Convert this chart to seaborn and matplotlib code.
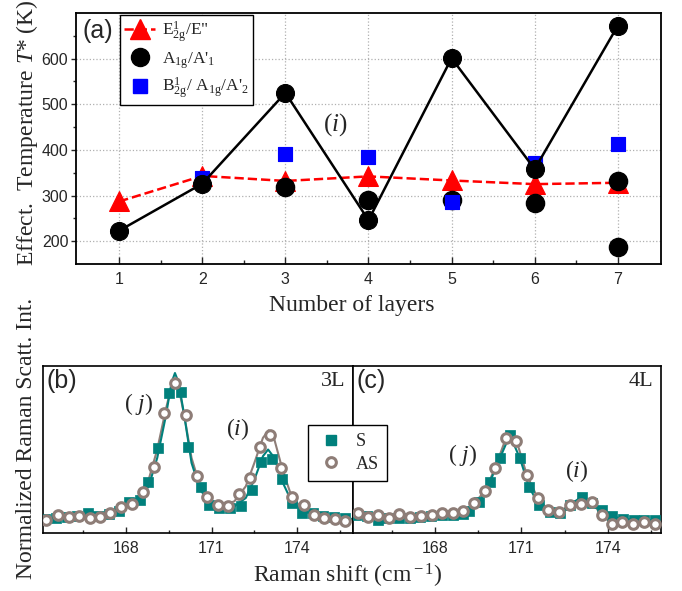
import numpy as np
import pandas as pd
import matplotlib
matplotlib.use("Agg")
import matplotlib.pyplot as plt
import seaborn as sns
from matplotlib.lines import Line2D
from matplotlib.ticker import FixedLocator

# ---------------- data: panel (a) ----------------
layers = [1, 2, 3, 4, 5, 6, 7]
e2g_T = [287, 343, 332, 342, 333, 325, 328]
a1g_T = [223, 326, 525, 246, 601, 358, 672]
a1g_extra_layers = [3, 4, 5, 6, 7, 7]
a1g_extra_T = [319, 291, 291, 283, 332, 187]
b2g_layers = [2, 3, 4, 5, 6, 7]
b2g_T = [339, 392, 384, 285, 372, 414]
x_ticks_a = [1, 2, 3, 4, 5, 6, 7]
y_ticks_a = [200, 300, 400, 500, 600]

# ---------------- data: panel (b) 3L ----------------
b_S_x = [165.16, 165.54, 165.93, 166.28, 166.67, 167.02, 167.40, 167.75, 168.12, 168.49,
         168.78, 169.13, 169.52, 169.92, 170.19, 170.62, 170.92, 171.26, 171.65, 172.02,
         172.41, 172.73, 173.11, 173.46, 173.81, 174.16, 174.56, 174.91, 175.30, 175.68]
b_S_y = [0.084, 0.090, 0.096, 0.100, 0.120, 0.102, 0.114, 0.132, 0.184, 0.198,
         0.308, 0.507, 0.840, 0.846, 0.517, 0.277, 0.168, 0.152, 0.148, 0.163,
         0.257, 0.427, 0.441, 0.321, 0.178, 0.122, 0.120, 0.102, 0.096, 0.090]
b_AS_x = [165.22, 165.62, 166.00, 166.37, 166.74, 167.10, 167.46, 167.84, 168.20, 168.61,
          168.99, 169.33, 169.72, 170.09, 170.48, 170.83, 171.22, 171.59, 171.96, 172.33,
          172.70, 173.05, 173.44, 173.81, 174.22, 174.57, 174.95, 175.33, 175.68]
b_AS_y = [0.078, 0.106, 0.098, 0.103, 0.088, 0.098, 0.118, 0.153, 0.175, 0.247,
          0.397, 0.717, 0.900, 0.707, 0.341, 0.217, 0.168, 0.162, 0.232, 0.331,
          0.517, 0.587, 0.387, 0.214, 0.168, 0.108, 0.088, 0.082, 0.072]
b_Sfit_x = [165.1, 166.0, 167.0, 167.8, 168.4, 168.8, 169.1, 169.4, 169.6, 169.72, 169.85,
            170.05, 170.3, 170.6, 171.0, 171.4, 171.8, 172.2, 172.5, 172.8, 172.98, 173.2,
            173.5, 173.8, 174.2, 174.8, 175.9]
b_Sfit_y = [0.085, 0.095, 0.11, 0.14, 0.19, 0.28, 0.45, 0.70, 0.90, 0.958, 0.90,
            0.70, 0.42, 0.26, 0.17, 0.15, 0.16, 0.21, 0.32, 0.46, 0.50, 0.45,
            0.30, 0.19, 0.13, 0.10, 0.085]
b_ASfit_x = [165.1, 166.0, 167.0, 167.8, 168.4, 168.8, 169.1, 169.4, 169.6, 169.72, 169.85,
             170.05, 170.3, 170.6, 171.0, 171.4, 171.8, 172.2, 172.5, 172.8, 173.0, 173.2,
             173.5, 173.8, 174.2, 174.8, 175.9]
b_ASfit_y = [0.085, 0.095, 0.11, 0.15, 0.21, 0.32, 0.50, 0.74, 0.88, 0.91, 0.87,
             0.70, 0.45, 0.28, 0.19, 0.165, 0.19, 0.28, 0.42, 0.57, 0.615, 0.56,
             0.37, 0.22, 0.14, 0.10, 0.08]

# ---------------- data: panel (c) 4L ----------------
c_S_x = [165.26, 165.64, 166.01, 166.37, 166.75, 167.13, 167.48, 167.86, 168.24, 168.62,
         168.97, 169.18, 169.54, 169.91, 170.25, 170.60, 170.95, 171.27, 171.62, 171.99,
         172.34, 172.68, 173.09, 173.47, 173.80, 174.16, 174.53, 174.90, 175.27, 175.64]
c_S_y = [0.108, 0.100, 0.078, 0.090, 0.090, 0.090, 0.095, 0.100, 0.105, 0.110,
         0.115, 0.130, 0.184, 0.307, 0.447, 0.587, 0.447, 0.273, 0.168, 0.128,
         0.120, 0.168, 0.217, 0.178, 0.138, 0.100, 0.084, 0.080, 0.078, 0.076]
c_AS_x = [165.32, 165.67, 166.03, 166.39, 166.76, 167.14, 167.51, 167.89, 168.24, 168.61,
          168.98, 169.36, 169.74, 170.09, 170.46, 170.83, 171.19, 171.56, 171.92, 172.31,
          172.69, 173.06, 173.44, 173.79, 174.16, 174.51, 174.88, 175.26, 175.64]
c_AS_y = [0.122, 0.098, 0.108, 0.088, 0.114, 0.098, 0.104, 0.108, 0.118, 0.122,
          0.132, 0.178, 0.253, 0.391, 0.567, 0.553, 0.347, 0.211, 0.138, 0.128,
          0.168, 0.172, 0.184, 0.108, 0.054, 0.068, 0.052, 0.064, 0.054]
x_ticks_bc = [168, 171, 174]
x_minor_bc = [166.5, 169.5, 172.5, 175.5]

# ---------------- style ----------------
sns.set_style("ticks")
plt.rcParams['font.family'] = ['Liberation Serif', 'DejaVu Serif']
plt.rcParams['mathtext.fontset'] = 'custom'
plt.rcParams['mathtext.rm'] = 'Liberation Serif'
plt.rcParams['mathtext.it'] = 'Liberation Serif:italic'
plt.rcParams['mathtext.bf'] = 'Liberation Serif:bold'

teal = '#00807c'
brown = '#8e7d77'
sans = ['Liberation Sans', 'DejaVu Sans']

fig = plt.figure(figsize=(6.82, 5.91), dpi=100)
ax_a = fig.add_axes([0.1114, 0.5533, 0.8578, 0.4247])
ax_b = fig.add_axes([0.063, 0.0981, 0.4545, 0.2826])
ax_c = fig.add_axes([0.5176, 0.0981, 0.4516, 0.2826])

# ---------------- panel (a) ----------------
sns.lineplot(x=layers, y=e2g_T, ax=ax_a, color='red', linestyle='--', lw=1.8,
             marker='^', markersize=14, markeredgecolor='red', zorder=3, legend=False)
sns.scatterplot(x=a1g_extra_layers, y=a1g_extra_T, ax=ax_a, color='black', marker='o',
                s=170, edgecolor='black', zorder=4, legend=False)
sns.scatterplot(x=b2g_layers, y=b2g_T, ax=ax_a, color='blue', marker='s',
                s=105, edgecolor='blue', zorder=5, legend=False)
sns.lineplot(x=layers, y=a1g_T, ax=ax_a, color='black', lw=1.8, marker='o',
             markersize=13, markeredgecolor='black', zorder=6, legend=False)

ax_a.set_xlim(0.48, 7.52)
ax_a.set_ylim(150, 700)
ax_a.xaxis.set_major_locator(FixedLocator(x_ticks_a))
ax_a.xaxis.set_minor_locator(FixedLocator([1.5, 2.5, 3.5, 4.5, 5.5, 6.5]))
ax_a.yaxis.set_major_locator(FixedLocator(y_ticks_a))
ax_a.yaxis.set_minor_locator(FixedLocator([250, 350, 450, 550, 650]))
ax_a.grid(True, which='major', linestyle=':', color='#b0b0b0', lw=0.9)
ax_a.set_axisbelow(True)
ax_a.tick_params(axis='x', which='major', direction='in', length=5, width=1, pad=6)
ax_a.tick_params(axis='x', which='minor', direction='in', length=3, width=1)
ax_a.tick_params(axis='y', which='major', direction='out', length=3.5, width=1, pad=2)
ax_a.tick_params(axis='y', which='minor', direction='out', length=2, width=1)
for lab in ax_a.get_xticklabels() + ax_a.get_yticklabels():
    lab.set_family(sans)
    lab.set_fontsize(11.5)
ax_a.set_xlabel('')
ax_a.set_ylabel('')
for sp in ax_a.spines.values():
    sp.set_linewidth(1.3)
    sp.set_color('black')

ax_a.text(0.012, 0.975, '(a)', transform=ax_a.transAxes, ha='left', va='top',
          family=sans, fontsize=18)
ax_a.text(3.6, 455, r'($\it{i}$)', ha='center', va='center', fontsize=18)

handles_a = [
    Line2D([], [], color='red', ls='--', lw=1.8, marker='^', ms=14, mec='red'),
    Line2D([], [], color='black', ls='none', marker='o', ms=13),
    Line2D([], [], color='blue', ls='none', marker='s', ms=10),
]
labels_a = [r'E$^{\rm 1}_{\rm 2g}$/E"', r"A$_{\rm 1g}$/A'$_{\rm 1}$",
            r"B$^{\rm 1}_{\rm 2g}$/ A$_{\rm 1g}$/A'$_{\rm 2}$"]
leg = ax_a.legend(handles_a, labels_a, loc='upper left', bbox_to_anchor=(0.075, 0.992),
                  borderaxespad=0, frameon=True, fancybox=False, framealpha=1,
                  edgecolor='black', fontsize=12.5, handlelength=1.8, handletextpad=0.35,
                  labelspacing=0.3, borderpad=0.25)
leg.get_frame().set_linewidth(1.0)

# ---------------- panels (b), (c) ----------------
def spectrum(ax, sx, sy, ax_, ay, fits):
    for fx, fy, col in fits:
        sns.lineplot(x=fx, y=fy, ax=ax, color=col, lw=1.5, zorder=2, legend=False)
    sns.scatterplot(x=sx, y=sy, ax=ax, marker='s', s=55, color=teal, edgecolor=teal,
                    linewidth=0.5, zorder=3, legend=False)
    sns.scatterplot(x=ax_, y=ay, ax=ax, marker='o', s=48, color='white', edgecolor=brown,
                    linewidth=2.2, zorder=4, legend=False)
    ax.set_xlim(165.1, 175.95)
    ax.set_ylim(0, 1)
    ax.xaxis.set_major_locator(FixedLocator(x_ticks_bc))
    ax.xaxis.set_minor_locator(FixedLocator(x_minor_bc))
    ax.set_yticks([])
    ax.tick_params(axis='x', which='major', direction='in', length=4, width=1, pad=6)
    ax.tick_params(axis='x', which='minor', direction='in', length=2.5, width=1)
    for lab in ax.get_xticklabels():
        lab.set_family(sans)
        lab.set_fontsize(11.5)
    ax.set_xlabel('')
    ax.set_ylabel('')
    for sp in ax.spines.values():
        sp.set_linewidth(1.2)
        sp.set_color('black')

spectrum(ax_b, b_S_x, b_S_y, b_AS_x, b_AS_y,
         [(b_ASfit_x, b_ASfit_y, brown), (b_Sfit_x, b_Sfit_y, teal)])
spectrum(ax_c, c_S_x, c_S_y, c_AS_x, c_AS_y,
         [(c_AS_x, c_AS_y, brown), (c_S_x, c_S_y, teal)])
ax_c.set_xlim(165.15, 175.85)

ax_b.text(0.01, 0.985, '(b)', transform=ax_b.transAxes, ha='left', va='top', family=sans, fontsize=18)
ax_c.text(0.012, 0.985, '(c)', transform=ax_c.transAxes, ha='left', va='top', family=sans, fontsize=18)
ax_b.text(0.975, 0.965, '3L', transform=ax_b.transAxes, ha='right', va='top', fontsize=16)
ax_c.text(0.975, 0.965, '4L', transform=ax_c.transAxes, ha='right', va='top', fontsize=16)
ax_b.text(0.31, 0.77, r'( $\it{j}$)', transform=ax_b.transAxes, ha='center', va='center', fontsize=17)
ax_b.text(0.627, 0.62, r'($\it{i}$)', transform=ax_b.transAxes, ha='center', va='center', fontsize=17)
ax_c.text(0.357, 0.47, r'( $\it{j}$)', transform=ax_c.transAxes, ha='center', va='center', fontsize=17)
ax_c.text(0.727, 0.37, r'($\it{i}$)', transform=ax_c.transAxes, ha='center', va='center', fontsize=17)

handles_bc = [
    Line2D([], [], ls='none', marker='s', ms=7.5, color=teal, mec=teal),
    Line2D([], [], ls='none', marker='o', ms=7, mfc='white', mec=brown, mew=2.2),
]
leg2 = fig.legend(handles_bc, ['S', 'AS'], loc='upper left', bbox_to_anchor=(0.4516, 0.2809),
                  bbox_transform=fig.transFigure, borderaxespad=0, frameon=True,
                  fancybox=False, framealpha=1, edgecolor='black', fontsize=13,
                  handlelength=1.6, handletextpad=0.6, labelspacing=0.3, borderpad=0.45)
leg2.get_frame().set_linewidth(1.0)
leg2.set_zorder(10)

# ---------------- axis titles ----------------
fig.text(352 / 682, 1 - 306 / 591, 'Number of layers', ha='center', va='center', fontsize=17)
fig.text(348 / 682, 1 - 576 / 591, r'Raman shift (cm$^{\rm -1}$)', ha='center', va='center', fontsize=17)
fig.text(27 / 682, 1 - 133 / 591, r'Effect.  Temperature $\it{T}$* (K)', rotation=90,
         ha='center', va='center', fontsize=17)
fig.text(27 / 682, 1 - 438 / 591, 'Normalized Raman Scatt. Int.', rotation=90,
         ha='center', va='center', fontsize=17)

fig.savefig('out.png', dpi=100)
